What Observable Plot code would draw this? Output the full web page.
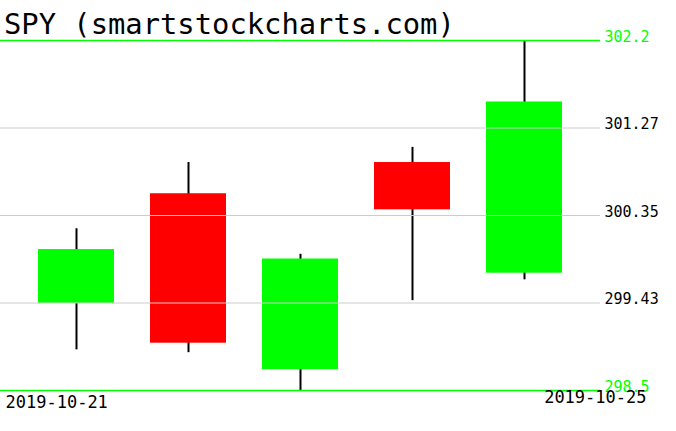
<!DOCTYPE html>
<html><head><meta charset="utf-8">
<script src="https://cdn.jsdelivr.net/npm/d3@7"></script>
<script src="https://cdn.jsdelivr.net/npm/@observablehq/plot@0.6"></script>
<style>
body{margin:0;background:#fff;}
#wrap{position:relative;width:676px;height:431px;}
#title{position:absolute;left:4px;top:10px;font-family:"DejaVu Sans Mono",monospace;font-size:28.8px;line-height:28px;color:#000;white-space:nowrap;}
</style></head><body>
<div id="wrap"><div id="title"></div></div>
<script>
const title = "SPY (smartstockcharts.com)";
const dates = ["2019-10-21","2019-10-22","2019-10-23","2019-10-24","2019-10-25"];
const opens  = [299.42, 300.58, 298.72, 300.91, 299.74];
const highs  = [300.21, 300.91, 299.94, 301.07, 302.20];
const lows   = [298.93, 298.90, 298.50, 299.45, 299.67];
const closes = [299.99, 299.00, 299.89, 300.41, 301.55];
const yTicks = [298.5, 299.425, 300.35, 301.275, 302.2];
const yTickLabels = ["298.5","299.43","300.35","301.27","302.2"];

document.getElementById("title").textContent = title;
const candles = dates.map((d,i)=>({date:d, open:opens[i], high:highs[i], low:lows[i], close:closes[i]}));
const ticks = yTicks.map((v,i)=>({v, label:yTickLabels[i], edge: i===0 || i===yTicks.length-1}));
const font = '"DejaVu Sans Mono", monospace';
const chart = Plot.plot({
  width:676, height:431, marginTop:40, marginBottom:41, marginLeft:0, marginRight:76,
  style:{background:"#fff", fontFamily:font},
  x:{type:"band", domain:dates, paddingInner:0.324, paddingOuter:0.329, axis:null},
  y:{domain:[298.5,302.2], axis:null},
  marks:[
    Plot.ruleX(candles,{x:"date", y1:"low", y2:"high", stroke:"#000", strokeWidth:2}),
    Plot.barY(candles,{x:"date", y1:"open", y2:"close", fill:d=>d.close>=d.open?"#00ff00":"#ff0000"}),
    Plot.ruleY(ticks.filter(t=>!t.edge),{y:"v", stroke:"#cccccc"}),
    Plot.ruleY(ticks.filter(t=>t.edge),{y:"v", stroke:"#00ff00", strokeWidth:1.3}),
    Plot.text(ticks,{y:"v", text:"label", frameAnchor:"right", dx:4, dy:1, textAnchor:"start", lineAnchor:"bottom", fill:d=>d.edge?"#00ff00":"#000000", fontSize:15}),
    Plot.text([dates[0]],{text:d=>d, frameAnchor:"bottom-left", dx:5, dy:17, textAnchor:"start", lineAnchor:"bottom", fontSize:17}),
    Plot.text([dates[dates.length-1]],{text:d=>d, frameAnchor:"bottom-right", dx:46, dy:12, textAnchor:"end", lineAnchor:"bottom", fontSize:17})
  ]
});
document.getElementById("wrap").appendChild(chart);
</script>
</body></html>
